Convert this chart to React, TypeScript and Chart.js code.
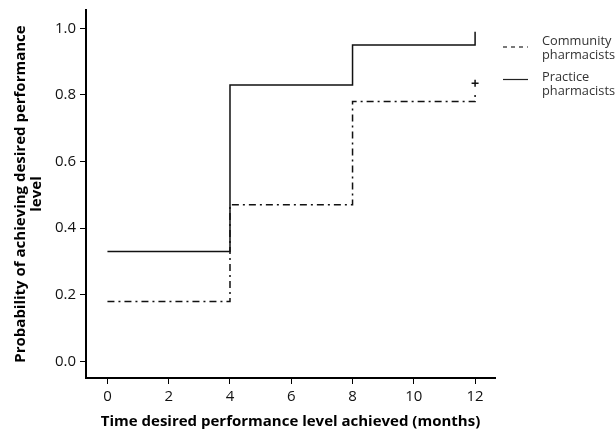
import React, { useEffect, useLayoutEffect, useRef } from 'react';
import { Chart, registerables } from 'chart.js';

Chart.register(...registerables);

// ---- data ----
const months = [0, 4, 8, 12, 12];
const practiceValues = [0.33, 0.83, 0.95, 0.95, 0.99];
const communityValues = [0.18, 0.47, 0.78, 0.78, 0.81];
const censorMonths = [12];
const censorValues = [0.835];
const xTicks = [0, 2, 4, 6, 8, 10, 12];
const yTicks = [0, 0.2, 0.4, 0.6, 0.8, 1.0];
const legendLabels = [
  ['Community', 'pharmacists'],
  ['Practice', 'pharmacists'],
];
const xTitle = 'Time desired performance level achieved (months)';
const yTitle = ['Probability of achieving desired performance', 'level'];

const FONT = '"Open Sans", "Noto Sans", sans-serif';
const COMMUNITY_DASH = [7, 4, 2, 4];
const LEGEND_DASHES = [[4, 4], []];

const sideLegend = {
  id: 'sideLegend',
  afterDraw(chart: any) {
    const ctx = chart.ctx;
    const right = chart.chartArea.right;
    const sampleX0 = right + 8;
    const sampleX1 = right + 33;
    const textX = right + 47;
    const groups = [
      { baseline: 45, sampleY: 47 },
      { baseline: 81, sampleY: 79.5 },
    ];
    ctx.save();
    legendLabels.forEach((lines, i) => {
      const g = groups[i];
      ctx.beginPath();
      ctx.setLineDash(LEGEND_DASHES[i]);
      ctx.strokeStyle = '#222';
      ctx.lineWidth = 1.2;
      ctx.moveTo(sampleX0, g.sampleY);
      ctx.lineTo(sampleX1, g.sampleY);
      ctx.stroke();
      ctx.setLineDash([]);
      ctx.fillStyle = '#333';
      ctx.font = `12.8px ${FONT}`;
      ctx.textAlign = 'left';
      ctx.textBaseline = 'alphabetic';
      lines.forEach((t, j) => ctx.fillText(t, textX, g.baseline + j * 13.5));
    });
    ctx.restore();
  },
};

export default function App() {
  const ref = useRef<HTMLCanvasElement>(null);
  useLayoutEffect(() => {
    document.body.style.margin = '0';
  }, []);
  useEffect(() => {
    if (!ref.current) return;
    const chart = new Chart(ref.current, {
      type: 'line',
      data: {
        datasets: [
          {
            label: 'Practice pharmacists',
            data: months.map((m, i) => ({ x: m, y: practiceValues[i] })),
            stepped: 'before',
            borderColor: '#111',
            borderWidth: 1.5,
            pointRadius: 0,
            fill: false,
          },
          {
            label: 'Community pharmacists',
            data: months.map((m, i) => ({ x: m, y: communityValues[i] })),
            stepped: 'before',
            borderColor: '#111',
            borderWidth: 1.5,
            borderDash: COMMUNITY_DASH,
            pointRadius: 0,
            fill: false,
          },
          {
            label: 'censored',
            data: censorMonths.map((m, i) => ({ x: m, y: censorValues[i] })),
            showLine: false,
            pointStyle: 'cross',
            pointRadius: 3.5,
            borderColor: '#111',
            borderWidth: 1.5,
          },
        ],
      },
      options: {
        animation: false,
        responsive: false,
        maintainAspectRatio: false,
        layout: { padding: { top: 10, right: 121, left: 0, bottom: 0 } },
        plugins: { legend: { display: false }, tooltip: { enabled: false } },
        scales: {
          x: {
            type: 'linear',
            min: -0.7,
            max: 12.65,
            afterBuildTicks: (s: any) => {
              s.ticks = xTicks.map((v) => ({ value: v }));
            },
            afterFit: (s: any) => {
              s.height = 54;
              s.paddingLeft = 0;
              s.paddingRight = 0;
            },
            ticks: {
              autoSkip: false,
              maxRotation: 0,
              padding: 4,
              color: '#111',
              font: { family: FONT, size: 15 },
              callback: (v: any) => String(v),
            },
            grid: {
              display: true,
              drawOnChartArea: false,
              drawTicks: true,
              tickLength: 6,
              color: '#000',
              lineWidth: 1,
            },
            border: { display: true, color: '#000', width: 2 },
            title: {
              display: true,
              text: xTitle,
              color: '#000',
              font: { family: FONT, size: 15, weight: 'bold', lineHeight: 1.2 },
              padding: { top: 0, bottom: 1 },
            },
          },
          y: {
            type: 'linear',
            min: -0.05,
            max: 1.055,
            afterBuildTicks: (s: any) => {
              s.ticks = yTicks.map((v) => ({ value: v }));
            },
            afterFit: (s: any) => {
              s.width = 86;
              s.paddingTop = 0;
              s.paddingBottom = 0;
            },
            ticks: {
              padding: 4,
              color: '#111',
              font: { family: FONT, size: 15 },
              callback: (v: any) => Number(v).toFixed(1),
            },
            grid: {
              display: true,
              drawOnChartArea: false,
              drawTicks: true,
              tickLength: 6,
              color: '#000',
              lineWidth: 1,
            },
            border: { display: true, color: '#000', width: 2 },
            title: {
              display: true,
              text: yTitle,
              color: '#000',
              font: { family: FONT, size: 15, weight: 'bold', lineHeight: 1.07 },
              padding: { top: 13, bottom: 0 },
            },
          },
        },
      },
      plugins: [sideLegend],
    } as any);
    return () => chart.destroy();
  }, []);
  return (
    <div style={{ width: 616, height: 432 }}>
      <canvas ref={ref} width={616} height={432} style={{ display: 'block' }} />
    </div>
  );
}
